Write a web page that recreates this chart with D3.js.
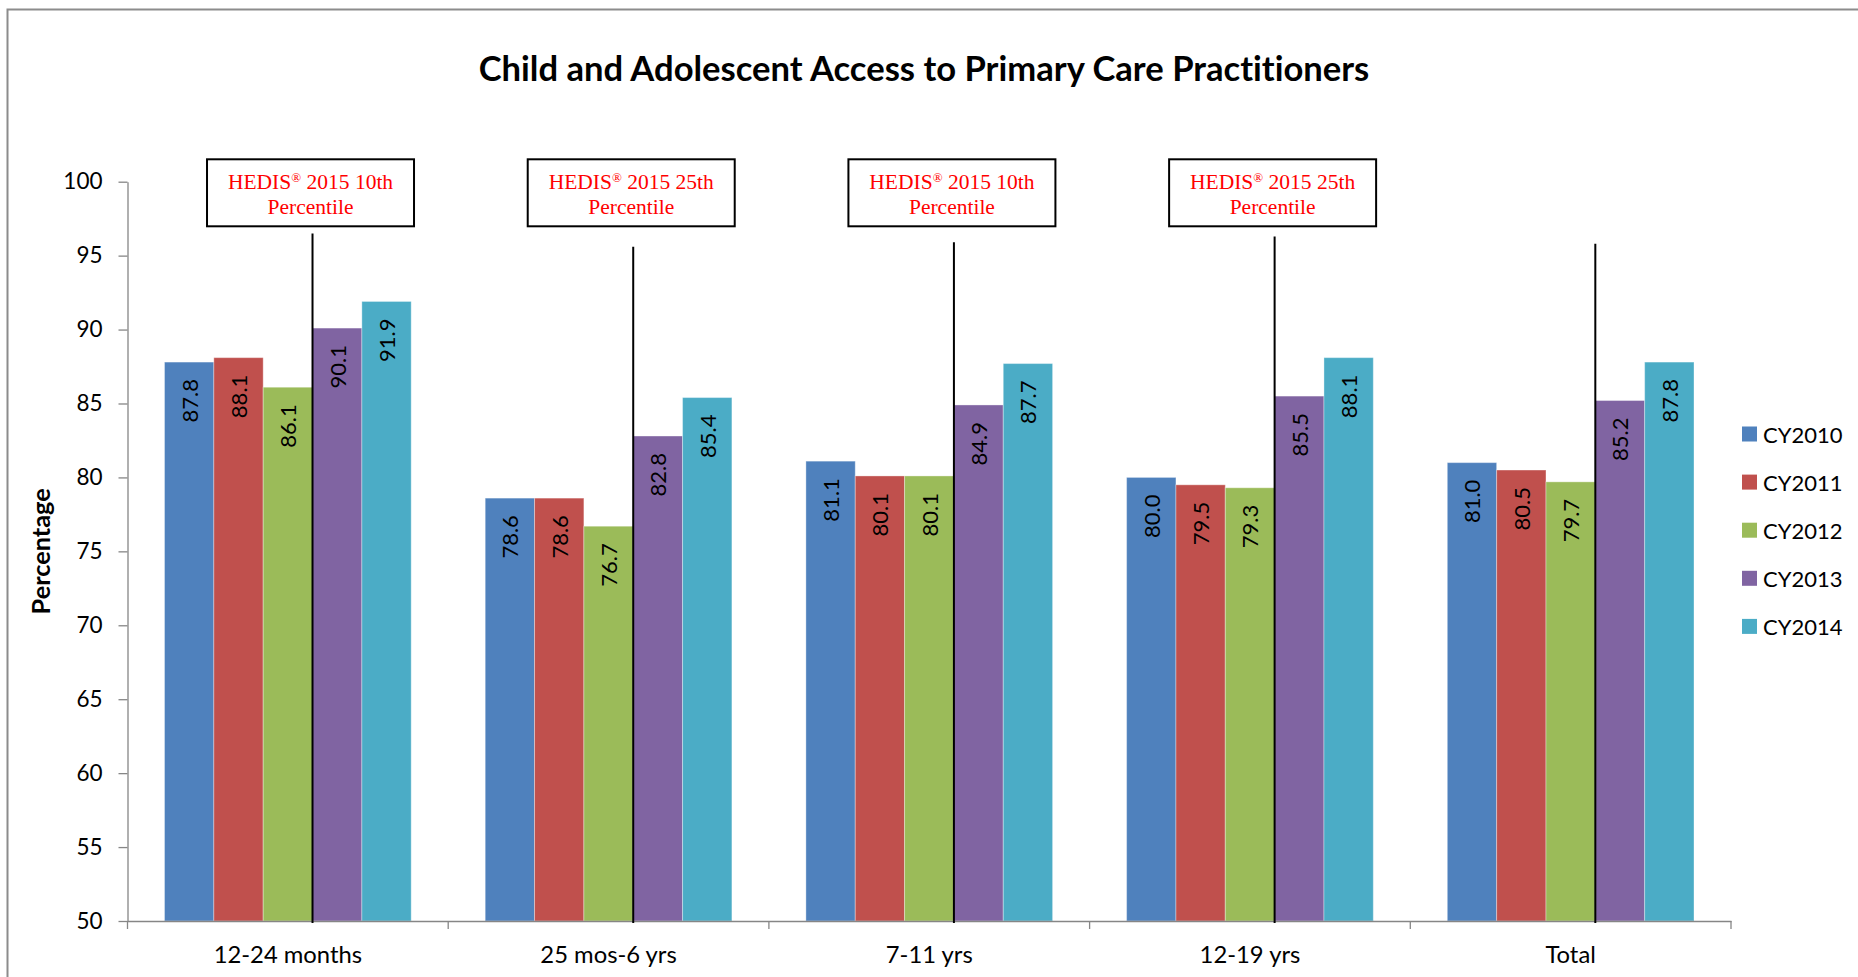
<!DOCTYPE html>
<html>
<head>
<meta charset="utf-8">
<script src="https://cdn.jsdelivr.net/npm/d3@7"></script>
<style>
  html, body { margin: 0; padding: 0; background: #fff; }
  svg { display: block; }
  text { font-variant-ligatures: none; }
</style>
</head>
<body>
<div id="chart"></div>
<script>
// chart data
const categories = ["12-24 months", "25 mos-6 yrs", "7-11 yrs", "12-19 yrs", "Total"];
const seriesNames = ["CY2010", "CY2011", "CY2012", "CY2013", "CY2014"];
const cy2010 = [87.8, 78.6, 81.1, 80.0, 81.0];
const cy2011 = [88.1, 78.6, 80.1, 79.5, 80.5];
const cy2012 = [86.1, 76.7, 80.1, 79.3, 79.7];
const cy2013 = [90.1, 82.8, 84.9, 85.5, 85.2];
const cy2014 = [91.9, 85.4, 87.7, 88.1, 87.8];
const yTicks = [50, 55, 60, 65, 70, 75, 80, 85, 90, 95, 100];

// callout boxes and the marker lines under them
const hedisYear = ["10th", "25th", "10th", "25th", null];
const markerTops = [96.5, 95.6, 95.9, 96.3, 95.8];

const seriesValues = [cy2010, cy2011, cy2012, cy2013, cy2014];
const colors = ["#4F81BD", "#C0504D", "#9BBB59", "#8064A2", "#4BACC6"];

const width = 1858, height = 977;
const margin = {top: 181.7, left: 127.5, right: 1731, bottom: 921};
const font = "Lato, 'Open Sans', sans-serif";

// one row per bar
const bars = [];
categories.forEach((c, i) => {
	seriesNames.forEach((s, j) => {
		bars.push({category: c, series: s, value: seriesValues[j][i], color: colors[j]});
	});
});

const svg = d3.select("#chart")
	.append("svg")
	.attr("width", width)
	.attr("height", height)
	.style("background-color", "white");

// chart area border (right and bottom run off the page)
svg.append("rect")
	.attr("x", 7.5)
	.attr("y", 9.5)
	.attr("width", width + 20)
	.attr("height", height + 20)
	.attr("fill", "white")
	.attr("stroke", "#8c8c8c")
	.attr("stroke-width", 2);

// scales
const xScale = d3.scaleBand()
	.domain(categories)
	.range([margin.left, margin.right])
	.padding(0);

const xSeries = d3.scaleBand()
	.domain(seriesNames)
	.range([0, xScale.bandwidth()])
	.paddingInner(0)
	.paddingOuter(0.75);

const yScale = d3.scaleLinear()
	.domain([50, 100])
	.range([margin.bottom, margin.top]);

// title
svg.append("text")
	.attr("x", 924)
	.attr("y", 80.5)
	.attr("text-anchor", "middle")
	.style("font-family", font)
	.style("font-weight", "bold")
	.style("font-size", "34.6px")
	.text("Child and Adolescent Access to Primary Care Practitioners");

// bars
svg.append("g")
	.selectAll("rect")
	.data(bars)
	.enter().append("rect")
	.attr("x", d => xScale(d.category) + xSeries(d.series))
	.attr("y", d => yScale(d.value))
	.attr("width", xSeries.bandwidth())
	.attr("height", d => yScale(50) - yScale(d.value))
	.attr("fill", d => d.color)
	.attr("stroke", "white")
	.attr("stroke-opacity", 0.35)
	.attr("stroke-width", 1);

// value labels, rotated, just inside the top of each bar
svg.append("g")
	.selectAll("text")
	.data(bars)
	.enter().append("text")
	.attr("transform", d => `translate(${xScale(d.category) + xSeries(d.series) + xSeries.bandwidth() / 2},${yScale(d.value) + 17}) rotate(-90)`)
	.attr("text-anchor", "end")
	.attr("dominant-baseline", "central")
	.style("font-family", font)
	.style("font-size", "22px")
	.attr("fill", "black")
	.text(d => d3.format(".1f")(d.value));

// y axis
const yAxis = svg.append("g")
	.attr("transform", `translate(${margin.left},0)`)
	.call(d3.axisLeft(yScale).tickValues(yTicks).tickSize(9).tickPadding(16).tickSizeOuter(0));
yAxis.selectAll("path, line").attr("stroke", "#868686").attr("stroke-width", 1.3);
yAxis.selectAll("text")
	.style("font-family", font)
	.style("font-size", "22.5px")
	.attr("fill", "black");

// x axis, labels centred in the band, ticks on the band edges
const xAxis = svg.append("g")
	.attr("transform", `translate(0,${yScale(50)})`)
	.call(d3.axisBottom(xScale).tickSize(0).tickPadding(25));
xAxis.select("path").attr("stroke", "#868686").attr("stroke-width", 1.3);
xAxis.selectAll("text")
	.style("font-family", font)
	.style("font-size", "23.8px")
	.attr("fill", "black");
xAxis.selectAll(".edge")
	.data(categories.map(c => xScale(c)).concat([xScale.range()[1]]))
	.enter().append("line")
	.attr("class", "edge")
	.attr("x1", d => d)
	.attr("x2", d => d)
	.attr("y1", 0)
	.attr("y2", 8)
	.attr("stroke", "#868686")
	.attr("stroke-width", 1.3);

// y axis title
svg.append("text")
	.attr("transform", `translate(49.5,${(margin.top + margin.bottom) / 2}) rotate(-90)`)
	.attr("text-anchor", "middle")
	.style("font-family", font)
	.style("font-weight", "bold")
	.style("font-size", "25.3px")
	.text("Percentage");

// marker lines between the 2012 and 2013 bars
const markerX = c => xScale(c) + xSeries("CY2013");
svg.append("g")
	.selectAll("line")
	.data(categories)
	.enter().append("line")
	.attr("x1", d => markerX(d))
	.attr("x2", d => markerX(d))
	.attr("y1", (d, i) => yScale(markerTops[i]))
	.attr("y2", yScale(50) + 2)
	.attr("stroke", "black")
	.attr("stroke-width", 2);

// HEDIS callout boxes
const boxW = 207, boxH = 67, boxTop = 159.3;
const callouts = svg.append("g")
	.selectAll("g")
	.data(categories.map((c, i) => ({category: c, rank: hedisYear[i]})).filter(d => d.rank))
	.enter().append("g")
	.attr("transform", d => `translate(${markerX(d.category) - 2},${boxTop})`);

callouts.append("rect")
	.attr("x", -boxW / 2)
	.attr("y", 0)
	.attr("width", boxW)
	.attr("height", boxH)
	.attr("fill", "white")
	.attr("stroke", "black")
	.attr("stroke-width", 2);

const line1 = callouts.append("text")
	.attr("y", 30)
	.attr("text-anchor", "middle")
	.attr("fill", "red")
	.style("font-family", "'Liberation Serif', 'Times New Roman', serif")
	.style("font-size", "21.5px");
line1.append("tspan").text("HEDIS");
line1.append("tspan").attr("baseline-shift", "super").style("font-size", "13px").text("®");
line1.append("tspan").text(d => ` 2015 ${d.rank}`);

callouts.append("text")
	.attr("y", 55)
	.attr("text-anchor", "middle")
	.attr("fill", "red")
	.style("font-family", "'Liberation Serif', 'Times New Roman', serif")
	.style("font-size", "21.5px")
	.text("Percentile");

// legend
const legend = svg.append("g")
	.selectAll("g")
	.data(seriesNames)
	.enter().append("g")
	.attr("transform", (d, i) => `translate(1742,${434 + i * 48.1})`);

legend.append("rect")
	.attr("x", 0)
	.attr("y", -7.5)
	.attr("width", 15)
	.attr("height", 15)
	.attr("fill", (d, i) => colors[i]);

legend.append("text")
	.attr("x", 21)
	.attr("y", 0)
	.attr("dominant-baseline", "central")
	.style("font-family", font)
	.style("font-size", "22px")
	.text(d => d);
</script>
</body>
</html>
